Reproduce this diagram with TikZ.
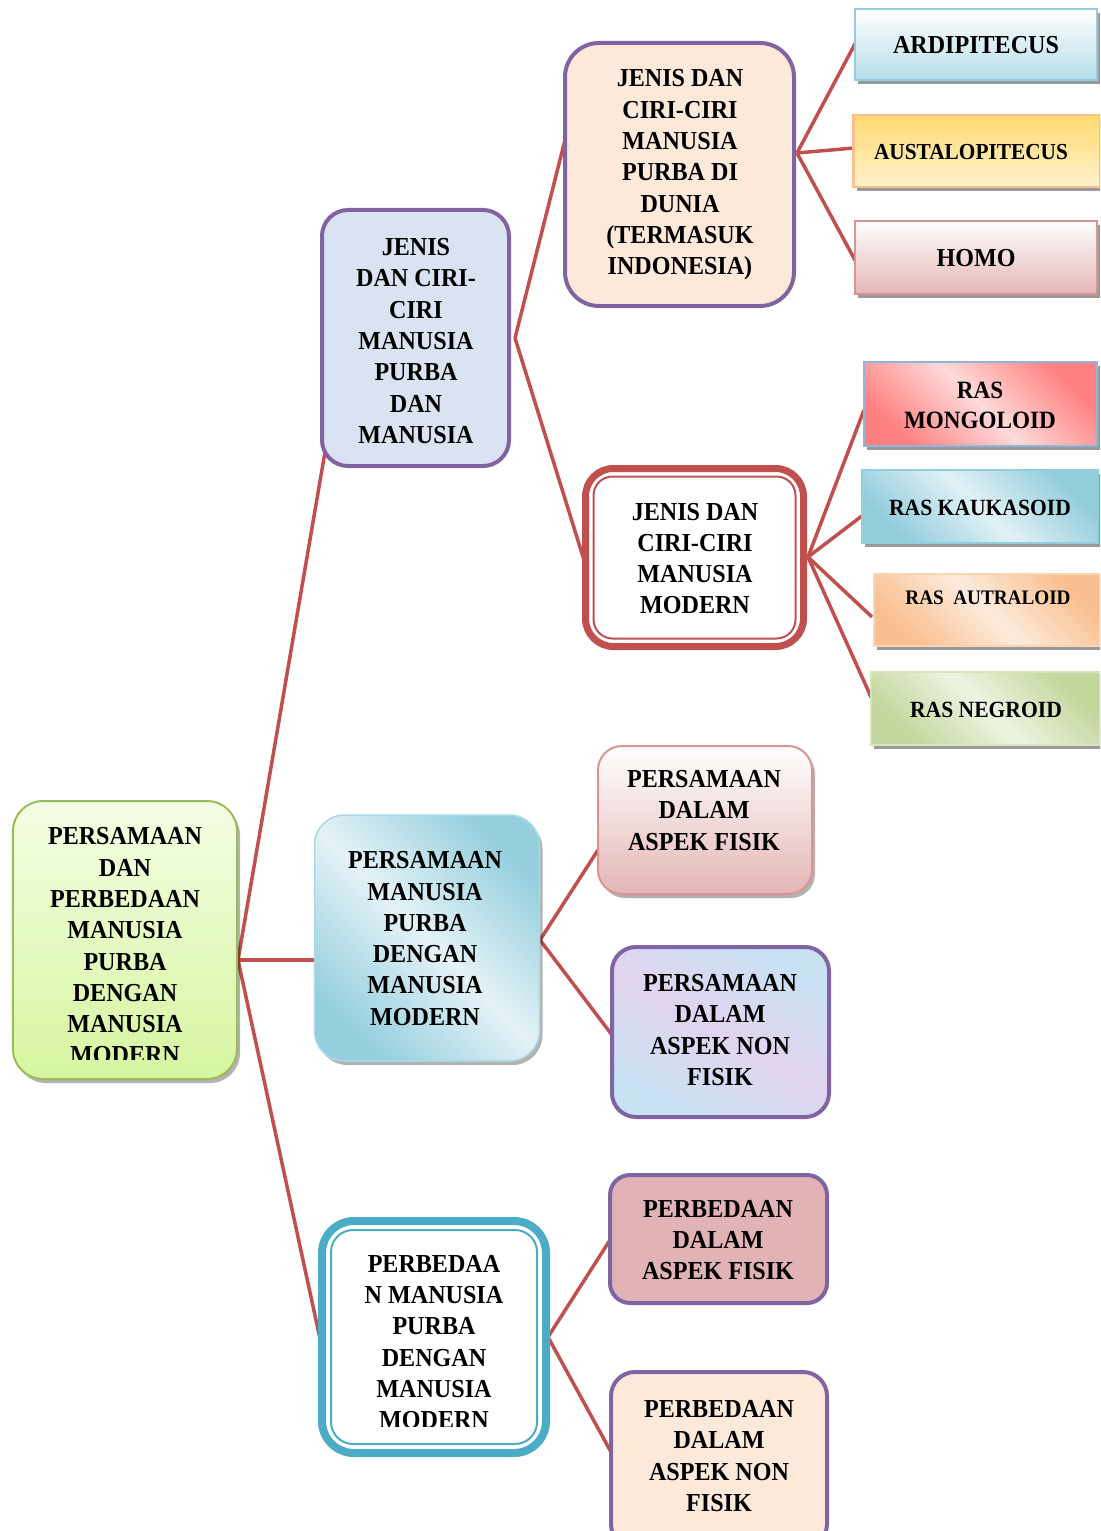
\documentclass[tikz,border=0pt]{standalone}
\usepackage{fontspec}
\setmainfont{Liberation Serif}[FakeStretch=0.93]
\usetikzlibrary{shadows}
\definecolor{conred}{HTML}{C0504D}
\definecolor{purp}{HTML}{8064A2}
\definecolor{teal}{HTML}{4BACC6}
\definecolor{rootgreen}{HTML}{9BBB59}
\definecolor{rootT}{HTML}{F4FDE4}
\definecolor{rootB}{HTML}{D6F6A0}
\definecolor{lav}{HTML}{DBE3F2}
\definecolor{peach}{HTML}{FDE9D9}
\definecolor{bluedk}{HTML}{95CFDE}
\definecolor{bluelt}{HTML}{E4F2F6}
\definecolor{pinkdk}{HTML}{E4B6B5}
\definecolor{pinkbd}{HTML}{D99594}
\definecolor{texA}{HTML}{C8E2F4}
\definecolor{texB}{HTML}{E2D4F0}
\definecolor{dusk}{HTML}{E2B3B6}
\definecolor{ardB}{HTML}{B6DDE8}
\definecolor{ardbd}{HTML}{93CDDD}
\definecolor{ausT}{HTML}{FFD970}
\definecolor{ausB}{HTML}{FFF2CC}
\definecolor{ausbd}{HTML}{FAC08F}
\definecolor{monR}{HTML}{FF8080}
\definecolor{monL}{HTML}{FFDADA}
\definecolor{monbd}{HTML}{95B3D7}
\definecolor{kauD}{HTML}{92CDDC}
\definecolor{kauL}{HTML}{E2F1F6}
\definecolor{orgD}{HTML}{FABF8F}
\definecolor{orgL}{HTML}{FDEBDD}
\definecolor{orgbd}{HTML}{FBD4B4}
\definecolor{grnD}{HTML}{C3D69B}
\definecolor{grnL}{HTML}{EEF4E2}
\definecolor{grnbd}{HTML}{D6E3BC}
\begin{document}
\begin{tikzpicture}[x=1bp,y=-1bp,
  lbl/.style={font=\bfseries\fontsize{26}{31.4}\selectfont, align=center, inner sep=0pt, text=black},
  con/.style={draw=conred, line width=3.5bp},
  sh/.style={drop shadow={shadow xshift=3bp, shadow yshift=-4bp, fill=black, opacity=0.3}},
  leaf/.style={rectangle, inner sep=0pt, line width=2.5bp, drop shadow={shadow xshift=3bp, shadow yshift=-4bp, fill=black, opacity=0.4}},
  diag/.style 2 args={shading=axis, left color=#1, right color=#1, middle color=#2, shading angle=-45}
]
\clip (0,0) rectangle (1100,1531);
\fill[white] (0,0) rectangle (1100,1531);

% ---------- connectors ----------
\coordinate (rj) at (238,960);
\coordinate (aIn) at (325,452);
\coordinate (bIn) at (315,960);
\coordinate (cIn) at (324,1357);
\coordinate (aj) at (515,338);
\coordinate (dIn) at (565,140);
\coordinate (eIn) at (584,560);
\coordinate (dj) at (797,153);
\coordinate (ardIn) at (856,42);
\coordinate (ausIn) at (854,148);
\coordinate (homIn) at (856,262);
\coordinate (ej) at (808,557);
\coordinate (monIn) at (864,410);
\coordinate (kauIn) at (871,509);
\coordinate (autIn) at (872,617);
\coordinate (negIn) at (876,708);
\coordinate (bj) at (540,940);
\coordinate (fIn) at (598,850);
\coordinate (gIn) at (612,1035);
\coordinate (cj) at (548,1337);
\coordinate (hIn) at (610,1240);
\coordinate (iIn) at (611,1452);

\draw[con] (rj) -- (aIn);
\draw[con] (rj) -- (bIn);
\draw[con] (rj) -- (cIn);
\draw[con] (aj) -- (dIn);
\draw[con] (aj) -- (eIn);
\draw[con] (dj) -- (ardIn);
\draw[con] (dj) -- (ausIn);
\draw[con] (dj) -- (homIn);
\draw[con] (ej) -- (monIn);
\draw[con] (ej) -- (kauIn);
\draw[con] (ej) -- (autIn);
\draw[con] (ej) -- (negIn);
\draw[con] (bj) -- (fIn);
\draw[con] (bj) -- (gIn);
\draw[con] (cj) -- (hIn);
\draw[con] (cj) -- (iIn);

% ---------- root ----------
\node[draw=rootgreen, line width=2bp, rounded corners=30bp, top color=rootT, bottom color=rootB,
      minimum width=224bp, minimum height=278bp, sh] (root) at (125,940) {};
\begin{scope}
\clip (12,800) rectangle (238,1059);
\node[lbl] (roottxt) at (125,946) {PERSAMAAN\\DAN\\PERBEDAAN\\MANUSIA\\PURBA\\DENGAN\\MANUSIA\\MODERN};
\end{scope}

% ---------- level 2 ----------
\node[draw=purp, line width=4bp, rounded corners=26bp, fill=lav,
      minimum width=187bp, minimum height=256bp] (A) at (415.5,338) {};
\node[lbl] (Atxt) at (416,341) {JENIS\\DAN CIRI-\\CIRI\\MANUSIA\\PURBA\\DAN\\MANUSIA};

\node[draw=bluedk!80, line width=1.5bp, rounded corners=30bp, diag={bluedk}{bluelt},
      minimum width=225bp, minimum height=246bp, sh] (B) at (427,938) {};
\node[lbl] (Btxt) at (425,938.5) {PERSAMAAN\\MANUSIA\\PURBA\\DENGAN\\MANUSIA\\MODERN};

\node[draw=teal, line width=8bp, rounded corners=32bp, fill=white,
      minimum width=224bp, minimum height=232bp] (C) at (434,1337) {};
\draw[teal, line width=2bp, rounded corners=22bp]
  ([shift={(13bp,-13bp)}]C.north west) rectangle ([shift={(-13bp,13bp)}]C.south east);
\begin{scope}
\clip (330,1230) rectangle (540,1426);
\node[lbl] (Ctxt) at (434,1342) {PERBEDAA\\N MANUSIA\\PURBA\\DENGAN\\MANUSIA\\MODERN};
\end{scope}

% ---------- level 3 ----------
\node[draw=purp, line width=4bp, rounded corners=34bp, fill=peach,
      minimum width=229bp, minimum height=263bp] (D) at (679.5,174.5) {};
\node[lbl] (Dtxt) at (680,175) {JENIS DAN\\CIRI-CIRI\\MANUSIA\\PURBA DI\\DUNIA\\(TERMASUK\\INDONESIA)};

\node[draw=conred, line width=7bp, rounded corners=28bp, fill=white,
      minimum width=218bp, minimum height=178bp] (E) at (694.5,557.5) {};
\draw[conred, line width=2bp, rounded corners=19bp]
  ([shift={(11.5bp,-11.5bp)}]E.north west) rectangle ([shift={(-11.5bp,11.5bp)}]E.south east);
\node[lbl] (Etxt) at (695,558.5) {JENIS DAN\\CIRI-CIRI\\MANUSIA\\MODERN};

\node[draw=pinkbd, line width=2bp, rounded corners=24bp, top color=white, bottom color=pinkdk,
      minimum width=214bp, minimum height=148bp, sh] (F) at (705,820) {};
\node[lbl] (Ftxt) at (704,810.5) {PERSAMAAN\\DALAM\\ASPEK FISIK};

\node[draw=purp, line width=4bp, rounded corners=24bp, left color=texA, right color=texA, middle color=texB, shading angle=-30,
      minimum width=217bp, minimum height=170bp] (G) at (720.5,1032) {};
\node[lbl] (Gtxt) at (720,1030) {PERSAMAAN\\DALAM\\ASPEK NON\\FISIK};

\node[draw=purp, line width=4bp, rounded corners=20bp, fill=dusk,
      minimum width=217bp, minimum height=128bp] (H) at (718.5,1239) {};
\node[lbl] (Htxt) at (718,1240) {PERBEDAAN\\DALAM\\ASPEK FISIK};

\node[draw=purp, line width=4bp, rounded corners=24bp, fill=peach,
      minimum width=216bp, minimum height=176bp] (I) at (719,1460) {};
\node[lbl] (Itxt) at (719,1456) {PERBEDAAN\\DALAM\\ASPEK NON\\FISIK};

% ---------- leaves ----------
\node[leaf, draw=ardbd, top color=white, bottom color=ardB,
      minimum width=242bp, minimum height=71bp] (ard) at (976,44.5) {};
\node[lbl] (ardtxt) at (976,45) {ARDIPITECUS};

\node[leaf, draw=ausbd, top color=ausT, bottom color=ausB,
      minimum width=247bp, minimum height=72bp] (aus) at (977,151) {};
\node[lbl, font=\bfseries\fontsize{23}{28}\selectfont] (austxt) at (971,152) {AUSTALOPITECUS};

\node[leaf, draw=pinkbd, top color=white, bottom color=pinkdk,
      minimum width=242bp, minimum height=73bp] (hom) at (976,257.5) {};
\node[lbl] (homtxt) at (976,258) {HOMO};

\node[leaf, draw=monbd, diag={monR}{monL},
      minimum width=233bp, minimum height=84bp] (mon) at (980.5,404) {};
\node[lbl, font=\bfseries\fontsize{25}{30}\selectfont] (montxt) at (980,405) {RAS\\MONGOLOID};

\node[leaf, draw=kauD, diag={kauD}{kauL},
      minimum width=236bp, minimum height=73bp] (kau) at (980,506.5) {};
\node[lbl, font=\bfseries\fontsize{23.3}{28}\selectfont] (kautxt) at (980,508) {RAS KAUKASOID};

\node[leaf, draw=orgbd, diag={orgD}{orgL},
      minimum width=226bp, minimum height=72bp] (aut) at (987,610) {};
\node[lbl, font=\bfseries\fontsize{20.7}{26}\selectfont] (auttxt) at (988,598) {RAS\ \ AUTRALOID};

\node[leaf, draw=grnbd, diag={grnD}{grnL},
      minimum width=229bp, minimum height=73bp] (neg) at (985.5,708.5) {};
\node[lbl, font=\bfseries\fontsize{23.3}{28}\selectfont] (negtxt) at (986,710) {RAS NEGROID};

\end{tikzpicture}
\end{document}
